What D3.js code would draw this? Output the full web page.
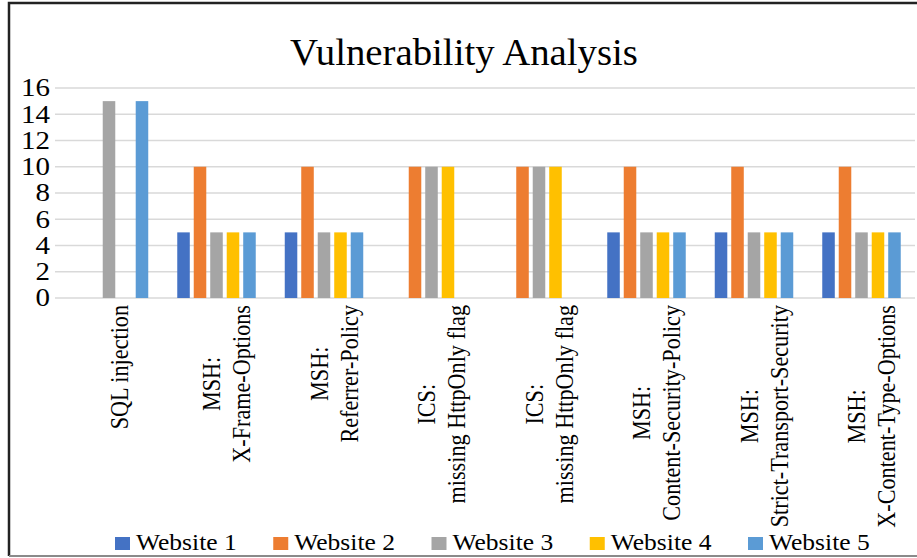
<!DOCTYPE html>
<html>
<head>
<meta charset="utf-8">
<script src="https://cdn.jsdelivr.net/npm/d3@7"></script>
<style>
  html, body { margin: 0; padding: 0; background: #fff; }
  svg { display: block; }
</style>
</head>
<body>
<svg id="chart" width="917" height="558"></svg>
<script>
// Vulnerability findings per category for five websites
const categories = [
  ["SQL injection"],
  ["MSH:", "X-Frame-Options"],
  ["MSH:", "Referrer-Policy"],
  ["ICS:", "missing HttpOnly flag"],
  ["ICS:", "missing HttpOnly flag"],
  ["MSH:", "Content-Security-Policy"],
  ["MSH:", "Strict-Transport-Security"],
  ["MSH:", "X-Content-Type-Options"]
];
const seriesNames = ["Website 1", "Website 2", "Website 3", "Website 4", "Website 5"];
const website1 = [0, 5, 5, 0, 0, 5, 5, 5];
const website2 = [0, 10, 10, 10, 10, 10, 10, 10];
const website3 = [15, 5, 5, 10, 10, 5, 5, 5];
const website4 = [0, 5, 5, 10, 10, 5, 5, 5];
const website5 = [15, 5, 5, 0, 0, 5, 5, 5];
const seriesValues = [website1, website2, website3, website4, website5];
const colors = ["#4472C4", "#ED7D31", "#A5A5A5", "#FFC000", "#5B9BD5"];
const yTicks = [0, 2, 4, 6, 8, 10, 12, 14, 16];
const titleText = "Vulnerability Analysis";

const FONT = "Liberation Serif";
const svg = d3.select("#chart");
const catIdx = d3.range(categories.length);

// outer frame
svg.append("path")
  .attr("d", "M9,556 L9,3 L917,3")
  .attr("fill", "none").attr("stroke", "#222").attr("stroke-width", 2.5);
svg.append("line")
  .attr("x1", 9).attr("x2", 917).attr("y1", 556).attr("y2", 556)
  .attr("stroke", "#8a8a8a").attr("stroke-width", 2);

// scales
const x0 = d3.scaleBand().domain(catIdx).range([55.25, 915.25])
  .paddingInner(0.233).paddingOuter(0.1165);
const x1 = d3.scaleBand().domain(d3.range(seriesNames.length))
  .range([0, x0.bandwidth()]).paddingInner(0.24).paddingOuter(0.12);
const y = d3.scaleLinear().domain([0, 16]).range([298, 88]);

// gridlines
svg.append("g").selectAll("line").data(yTicks).join("line")
  .attr("x1", 55).attr("x2", 915)
  .attr("y1", d => y(d)).attr("y2", d => y(d))
  .attr("stroke", "#d9d9d9").attr("stroke-width", 1.6);

// y tick labels
svg.append("g").selectAll("text").data(yTicks).join("text")
  .style("font-family", FONT)
  .attr("transform", d => `translate(50,${y(d)}) scale(1.16,1)`)
  .attr("text-anchor", "end").attr("dominant-baseline", "central")
  .attr("font-size", 25)
  .text(d => d);

// bars
const bars = [];
catIdx.forEach(c => seriesValues.forEach((vals, s) => bars.push({ c, s, v: vals[c] })));
svg.append("g").selectAll("rect").data(bars.filter(d => d.v > 0)).join("rect")
  .attr("x", d => x0(d.c) + x1(d.s))
  .attr("width", x1.bandwidth())
  .attr("y", d => y(d.v))
  .attr("height", d => y(0) - y(d.v))
  .attr("fill", d => colors[d.s]);

// category labels (rotated, multi-line, top-aligned under the axis)
const labelFont = 22.2, lineGap = 30, labelTop = 305, stretch = 1.18;
const labelG = svg.append("g");
catIdx.forEach(c => {
  const lines = categories[c];
  const cx = x0(c) + x0.bandwidth() / 2 + 10;
  const g = labelG.append("g");
  const texts = lines.map(t => g.append("text")
    .style("font-family", FONT)
    .attr("font-size", labelFont)
    .attr("text-anchor", "middle")
    .text(t));
  const maxLen = d3.max(texts, t => t.node().getComputedTextLength());
  const cy = labelTop + maxLen / 2;
  texts.forEach((t, i) => {
    const bx = cx + (i - (lines.length - 1) / 2) * lineGap + 8.5;
    t.attr("transform", `translate(${bx},${cy}) scale(${stretch},1) rotate(-90)`);
  });
});

// title
svg.append("text")
  .style("font-family", FONT)
  .attr("x", 464).attr("y", 65)
  .attr("text-anchor", "middle")
  .attr("font-size", 38.8)
  .text(titleText);

// legend
const lx = d3.scalePoint().domain(d3.range(seriesNames.length)).range([115, 748]);
const leg = svg.append("g").selectAll("g").data(seriesNames).join("g")
  .attr("transform", (d, i) => `translate(${lx(i)},0)`);
leg.append("rect")
  .attr("x", 0).attr("y", 537).attr("width", 15).attr("height", 13)
  .attr("fill", (d, i) => colors[i]);
leg.append("text")
  .style("font-family", FONT)
  .attr("transform", "translate(21,550) scale(1.11,1)")
  .attr("font-size", 23)
  .text(d => d);
</script>
</body>
</html>
